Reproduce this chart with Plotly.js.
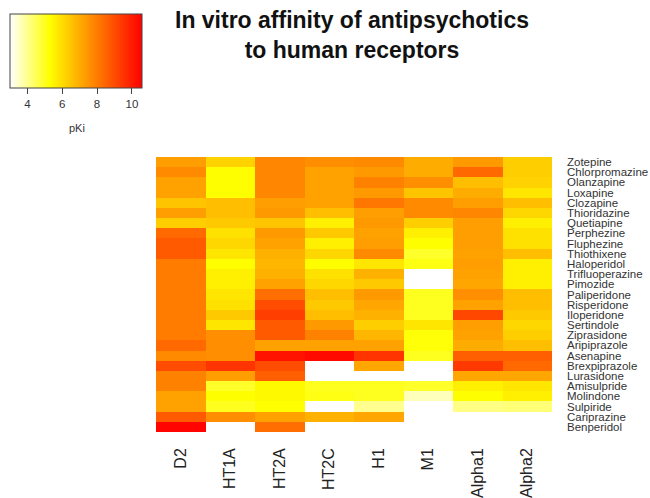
<!DOCTYPE html>
<html>
<head>
<meta charset="utf-8">
<script src="https://cdn.plot.ly/plotly-3.0.1.min.js"></script>
<style>html,body{margin:0;padding:0;background:#fff;}#chart{width:650px;height:498px;}</style>
</head>
<body>
<div id="chart"></div>
<script>
const receptors = ["D2","HT1A","HT2A","HT2C","H1","M1","Alpha1","Alpha2"];
const drugs = ["Zotepine","Chlorpromazine","Olanzapine","Loxapine","Clozapine","Thioridazine","Quetiapine","Perphezine","Fluphezine","Thiothixene","Haloperidol","Trifluoperazine","Pimozide","Paliperidone","Risperidone","Iloperidone","Sertindole","Ziprasidone","Aripiprazole","Asenapine","Brexpiprazole","Lurasidone","Amisulpride","Molindone","Sulpiride","Cariprazine","Benperidol"];

const D2     = [7.3,7.7,7.2,7.2,6.5,7.3,6.3,8.4,8.7,8.7,8.0,8.0,8.0,8.0,8.0,8.0,8.0,8.0,8.4,7.7,9.0,7.9,7.9,7.2,7.2,8.7,10.5];
const HT1A   = [6.2,5.3,5.3,5.3,6.6,6.6,6.4,5.9,6.1,5.8,5.3,5.6,5.6,5.8,5.9,6.4,5.8,7.6,7.6,7.6,9.5,7.3,4.9,5.3,5.0,7.6,null];
const HT2A   = [7.8,7.8,7.8,7.8,7.3,7.4,6.5,7.4,7.2,6.9,6.8,6.9,7.2,8.3,9.0,9.3,8.7,8.7,7.2,10.2,9.0,8.6,5.4,5.4,5.3,7.2,8.3];
const HT2C   = [7.6,7.2,7.2,7.2,7.2,6.6,5.6,6.4,5.6,6.1,5.3,5.9,6.1,6.6,6.4,6.6,7.4,7.9,7.2,10.4,null,null,5.0,5.1,null,6.9,null];
const H1     = [7.7,7.4,7.9,7.4,8.1,7.3,7.4,7.2,7.3,7.7,5.8,6.9,6.4,7.4,7.1,6.9,6.3,6.8,7.2,9.5,7.1,null,5.0,5.0,4.0,7.1,null];
const M1     = [7.0,7.0,7.6,6.5,7.7,7.7,6.3,5.6,5.3,4.9,5.1,null,null,5.0,5.0,5.0,5.8,5.2,5.2,5.0,null,null,4.9,3.6,null,null,null];
const Alpha1 = [7.4,8.4,6.6,7.0,7.3,7.8,7.3,7.3,7.3,7.2,7.3,7.2,7.1,7.6,7.2,9.1,7.3,7.2,7.0,8.6,9.4,7.1,5.6,5.3,4.1,null,null];
const Alpha2 = [6.3,6.3,6.2,5.8,6.6,6.1,5.6,5.9,5.9,6.6,5.6,5.6,5.6,6.6,6.6,6.4,6.1,6.3,6.6,8.6,8.4,7.1,5.8,5.6,4.2,null,null];

const cols = [D2,HT1A,HT2A,HT2C,H1,M1,Alpha1,Alpha2];
const z = drugs.map((d,i) => cols.map(c => c[i]));

const W = 650, H = 498;
const plotL = 155, plotR = 552, plotT = 157, plotB = 432;
const pw = plotR - plotL, ph = plotB - plotT;
const FONT = 'Liberation Sans, Arial, sans-serif';

const trace = {
  type: 'heatmap',
  x: receptors,
  y: drugs,
  z: z,
  zmin: 3, zmax: 10.58,
  colorscale: [[0,'#FFFFFF'],[0.3,'#FFFF00'],[1,'#FF0000']],
  hoverongaps: false,
  colorbar: {
    orientation: 'h',
    xanchor: 'left', yanchor: 'top',
    x: (10 - plotL) / pw,
    y: (plotB - 14) / ph,
    len: 132, lenmode: 'pixels',
    thickness: 74, thicknessmode: 'pixels',
    xpad: 0, ypad: 0,
    outlinewidth: 1, outlinecolor: '#444',
    tickvals: [4,6,8,10],
    ticks: 'outside', ticklen: 6, tickcolor: '#444',
    tickfont: {family: FONT, size: 11.5, color: '#333'}
  }
};

const layout = {
  width: W, height: H,
  margin: {l: plotL, r: W - plotR, t: plotT, b: H - plotB, pad: 0},
  paper_bgcolor: '#fff', plot_bgcolor: '#fff',
  title: {
    text: '<b>In vitro affinity of antipsychotics<br>to human receptors</b>',
    xref: 'container', x: 352 / W, xanchor: 'center',
    yref: 'container', y: 1 - 28 / H, yanchor: 'top',
    font: {family: FONT, size: 23, color: '#111'}
  },
  xaxis: {
    tickangle: -90, ticks: '', showgrid: false, zeroline: false, showline: false,
    tickfont: {family: FONT, size: 16, color: '#222'},
    ticklabelstandoff: 12
  },
  yaxis: {
    side: 'right', autorange: 'reversed', ticks: '', showgrid: false, zeroline: false, showline: false,
    tickmode: 'array', tickvals: drugs, ticktext: drugs,
    tickfont: {family: FONT, size: 11.5, color: '#333'},
    ticklabelstandoff: 14
  },
  annotations: [{
    text: 'pKi', xref: 'paper', yref: 'paper', showarrow: false,
    x: (76 - plotL) / pw, y: (plotB - 128) / ph, xanchor: 'center', yanchor: 'middle',
    font: {family: FONT, size: 11, color: '#333'}
  }],
  showlegend: false
};

Plotly.newPlot('chart', [trace], layout, {displayModeBar: false, staticPlot: true});
</script>
</body>
</html>
